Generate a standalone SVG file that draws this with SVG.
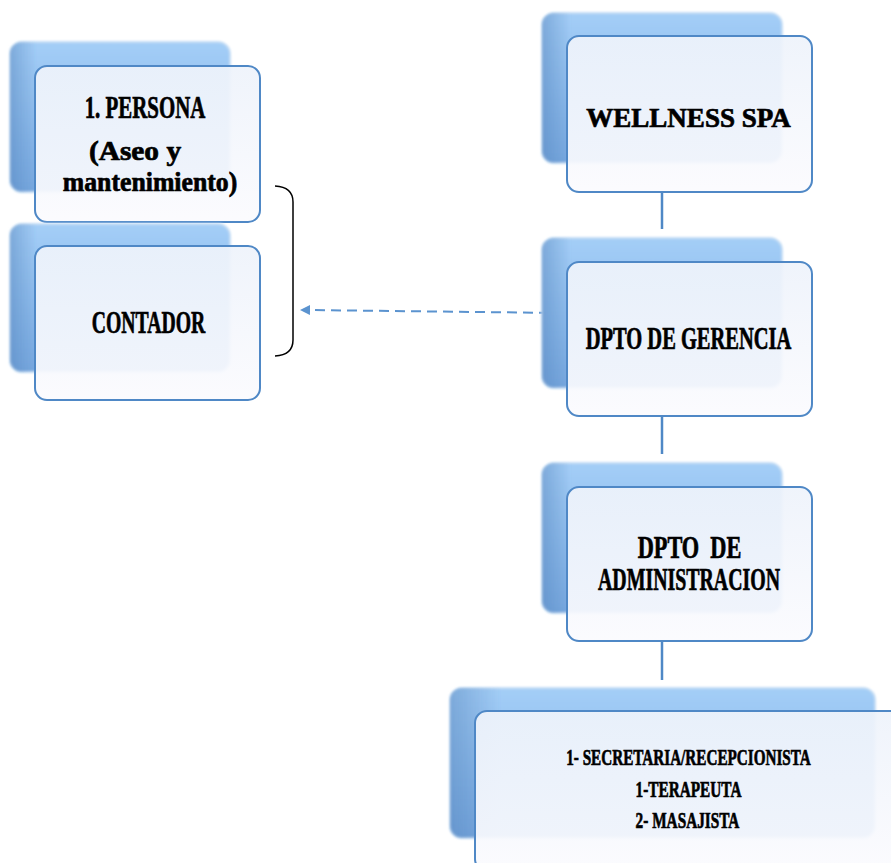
<svg xmlns="http://www.w3.org/2000/svg" width="891" height="863" viewBox="0 0 891 863">
<defs>
<linearGradient id="gb" x1="0" y1="0" x2="0" y2="1">
<stop offset="0" stop-color="#a4cef7"/>
<stop offset="0.5" stop-color="#8ebcec"/>
<stop offset="1" stop-color="#78a9e0"/>
</linearGradient>
<linearGradient id="gs" x1="0" y1="0" x2="1" y2="0">
<stop offset="0" stop-color="#4f7fb8" stop-opacity="0.45"/>
<stop offset="0.12" stop-color="#4f7fb8" stop-opacity="0"/>
</linearGradient>
<linearGradient id="gf" x1="0" y1="0" x2="0" y2="1">
<stop offset="0" stop-color="#eef3fb"/>
<stop offset="1" stop-color="#fbfbfe"/>
</linearGradient>
<filter id="blur" x="-10%" y="-10%" width="120%" height="120%"><feGaussianBlur stdDeviation="1.2"/></filter>
<marker id="arr" viewBox="0 0 10 10" refX="2" refY="5" markerWidth="5" markerHeight="5" orient="auto-start-reverse">
<path d="M0,0 L10,5 L0,10 z" fill="#5b93cf"/>
</marker>
</defs>
<style>
.back{fill:url(#gb);stroke:#c4ddf5;stroke-width:2;filter:url(#blur)}
.shade{fill:url(#gs);filter:url(#blur)}
.front{fill:url(#gf);fill-opacity:0.93;stroke:#4f88c6;stroke-width:2}
.t{font-family:"Liberation Serif","DejaVu Serif",serif;font-weight:bold;fill:#000;stroke:#000;stroke-width:0.7;text-anchor:middle;white-space:pre}
.conn{stroke:#4f88c6;stroke-width:2.5;fill:none}
</style>
<rect width="891" height="863" fill="#ffffff"/>

<g id="connectors">
<line class="conn" x1="662" y1="192" x2="662" y2="229"/>
<line class="conn" x1="662" y1="416" x2="662" y2="454"/>
<line class="conn" x1="662" y1="641" x2="662" y2="680"/>
<line x1="565" y1="313" x2="308" y2="310" stroke="#5b93cf" stroke-width="2" stroke-dasharray="10,6" marker-end="url(#arr)"/>
<path d="M275,186 Q293,187 293,202 L293,340 Q293,355 275,356" fill="none" stroke="#000" stroke-width="1.5"/>
</g>

<g id="wellness">
<rect class="back" x="542" y="13" width="240" height="150" rx="12"/>
<rect class="shade" x="542" y="13" width="240" height="150" rx="12"/>
<rect class="front" x="567" y="36" width="245" height="156" rx="12"/>
<text class="t" font-size="28" transform="translate(688.5,127) scale(0.965,1)">WELLNESS SPA</text>
</g>

<g id="gerencia">
<rect class="back" x="542" y="238" width="240" height="150" rx="12"/>
<rect class="shade" x="542" y="238" width="240" height="150" rx="12"/>
<rect class="front" x="567" y="262" width="245" height="154" rx="12"/>
<text class="t" font-size="31" transform="translate(688.5,349) scale(0.661,1)">DPTO DE GERENCIA</text>
</g>

<g id="administracion">
<rect class="back" x="542" y="463" width="240" height="150" rx="12"/>
<rect class="shade" x="542" y="463" width="240" height="150" rx="12"/>
<rect class="front" x="567" y="487" width="245" height="154" rx="12"/>
<text class="t" font-size="31" transform="translate(689.5,558) scale(0.72,1)">DPTO  DE</text>
<text class="t" font-size="31" transform="translate(689,590) scale(0.641,1)">ADMINISTRACION</text>
</g>

<g id="personal">
<rect class="back" x="450" y="688" width="425" height="150" rx="12"/>
<rect class="shade" x="450" y="688" width="425" height="150" rx="12"/>
<rect class="front" x="475" y="711" width="430" height="160" rx="12"/>
<text class="t" font-size="24" transform="translate(688.5,765) scale(0.633,1)">1- SECRETARIA/RECEPCIONISTA</text>
<text class="t" font-size="24" transform="translate(688.5,797) scale(0.637,1)">1-TERAPEUTA</text>
<text class="t" font-size="24" transform="translate(687.5,828) scale(0.638,1)">2- MASAJISTA</text>
</g>

<g id="persona">
<rect class="back" x="10" y="42" width="220" height="150" rx="12"/>
<rect class="shade" x="10" y="42" width="220" height="150" rx="12"/>
<rect class="front" x="35" y="66" width="225" height="156" rx="12"/>
<text class="t" font-size="31" transform="translate(145,118) scale(0.674,1)">1. PERSONA</text>
<text class="t" font-size="28" transform="translate(135,160) scale(1.05,1)">(Aseo y</text>
<text class="t" font-size="28" transform="translate(150,191) scale(0.92,1)">mantenimiento)</text>
</g>

<g id="contador">
<rect class="back" x="10" y="224" width="220" height="148" rx="12"/>
<rect class="shade" x="10" y="224" width="220" height="148" rx="12"/>
<rect class="front" x="35" y="246" width="225" height="154" rx="12"/>
<text class="t" font-size="31" transform="translate(148.5,333) scale(0.636,1)">CONTADOR</text>
</g>
</svg>
